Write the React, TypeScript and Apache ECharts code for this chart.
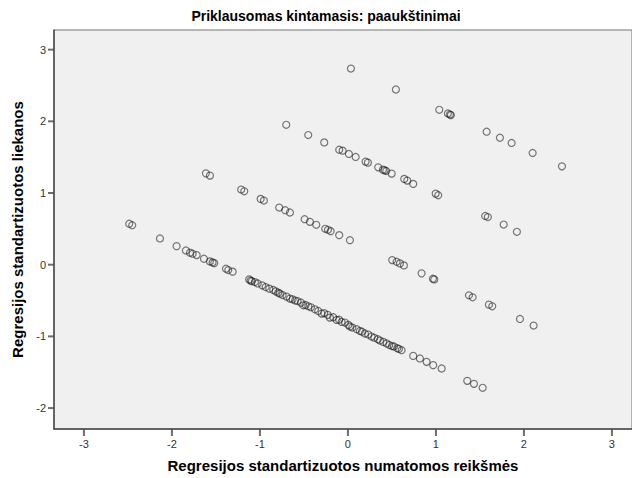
import React, { useEffect, useRef } from "react";
import * as echarts from "echarts";

const titleText = "Priklausomas kintamasis: paaukštinimai";
const xAxisTitle = "Regresijos standartizuotos numatomos reikšmės";
const yAxisTitle = "Regresijos standartizuotos liekanos";

const xTicks = [-3, -2, -1, 0, 1, 2, 3];
const yTicks = [-2, -1, 0, 1, 2, 3];

const X_MIN = -3.34;
const X_MAX = 3.228;
const Y_MIN = -2.292;
const Y_MAX = 3.274;

// Standardized predicted values (x)
const predicted = [
  // lowest band
  -2.485, -2.451, -2.136, -1.947, -1.841, -1.795, -1.765, -1.719, -1.636, -1.568,
  -1.538, -1.519, -1.386, -1.36, -1.31, -1.122, -1.105, -1.091, -1.057, -1.025,
  -0.974, -0.935, -0.894, -0.849, -0.82, -0.792, -0.773, -0.742, -0.697, -0.659,
  -0.628, -0.6, -0.572, -0.534, -0.508, -0.481, -0.45, -0.42, -0.375, -0.338,
  -0.299, -0.27, -0.23, -0.205, -0.167, -0.128, -0.1, -0.072, -0.034, 0.005,
  0.023, 0.05, 0.1, 0.136, 0.16, 0.193, 0.231, 0.269, 0.3, 0.34,
  0.364, 0.401, 0.44, 0.47, 0.5, 0.523, 0.56, 0.58, 0.61, 0.742,
  0.818, 0.894, 0.969, 1.065, 1.356, 1.432, 1.531,
  // second band
  -1.614, -1.568, -1.213, -1.178, -0.992, -0.955, -0.781, -0.713, -0.659, -0.492,
  -0.432, -0.36, -0.258, -0.227, -0.197, -0.099, 0.023, 0.503, 0.553, 0.591,
  0.636, 0.837, 0.966, 0.981, 1.375, 1.417, 1.602, 1.64, 1.955, 2.11,
  // third band
  -0.701, -0.451, -0.269, -0.099, -0.06, 0.011, 0.088, 0.201, 0.227, 0.344,
  0.398, 0.417, 0.435, 0.497, 0.64, 0.674, 0.742, 0.997, 1.026, 1.56,
  1.59, 1.77, 1.92,
  // top band
  0.034, 0.545, 1.038, 1.136, 1.159, 1.17, 1.576, 1.727, 1.86, 2.099, 2.432,
];

// Standardized residuals (y)
const residuals = [
  // lowest band
  0.571, 0.551, 0.366, 0.259, 0.199, 0.167, 0.153, 0.134, 0.083, 0.046,
  0.032, 0.022, -0.056, -0.075, -0.097, -0.205, -0.222, -0.23, -0.242, -0.262,
  -0.288, -0.312, -0.334, -0.353, -0.372, -0.39, -0.404, -0.423, -0.445, -0.473,
  -0.483, -0.5, -0.507, -0.529, -0.566, -0.562, -0.58, -0.594, -0.622, -0.646,
  -0.682, -0.675, -0.7, -0.738, -0.733, -0.771, -0.768, -0.799, -0.807, -0.84,
  -0.863, -0.877, -0.9, -0.924, -0.935, -0.96, -0.974, -1.002, -1.02, -1.04,
  -1.058, -1.077, -1.099, -1.12, -1.135, -1.141, -1.165, -1.175, -1.193, -1.272,
  -1.308, -1.355, -1.401, -1.448, -1.62, -1.662, -1.717,
  // second band
  1.274, 1.243, 1.048, 1.024, 0.918, 0.895, 0.797, 0.76, 0.728, 0.635,
  0.598, 0.557, 0.501, 0.487, 0.468, 0.412, 0.342, 0.064, 0.042, 0.018,
  -0.01, -0.121, -0.195, -0.205, -0.427, -0.455, -0.557, -0.58, -0.757, -0.849,
  // third band
  1.952, 1.809, 1.706, 1.604, 1.591, 1.545, 1.503, 1.438, 1.424, 1.358,
  1.326, 1.316, 1.308, 1.271, 1.197, 1.173, 1.127, 0.992, 0.969, 0.68,
  0.665, 0.56, 0.459,
  // top band
  2.736, 2.444, 2.161, 2.11, 2.096, 2.087, 1.855, 1.771, 1.698, 1.559, 1.372,
];

const FONT = 'Arial, "Liberation Sans", sans-serif';
const AXIS_COLOR = "#4a4a4a";

export default function App() {
  const ref = useRef<HTMLDivElement>(null);
  useEffect(() => {
    if (!ref.current) return;
    const chart = echarts.init(ref.current, null, { renderer: "svg" });
    const data = predicted.map((x, i) => [x, residuals[i]]);
    chart.setOption({
      animation: false,
      backgroundColor: "#ffffff",
      title: {
        text: titleText,
        left: 321,
        top: 4,
        textAlign: "center",
        textStyle: { fontFamily: FONT, fontSize: 14, fontWeight: "bold", color: "#000" },
      },
      grid: {
        left: 54,
        top: 30,
        right: 0,
        bottom: 48,
        show: true,
        backgroundColor: "#f0f0f0",
        borderColor: "#777",
        borderWidth: 1,
      },
      xAxis: {
        type: "value",
        min: X_MIN,
        max: X_MAX,
        name: xAxisTitle,
        nameLocation: "middle",
        nameGap: 29,
        nameTextStyle: { fontFamily: FONT, fontSize: 15, fontWeight: "bold", color: "#000" },
        axisLine: { show: true, onZero: false, lineStyle: { color: AXIS_COLOR, width: 1.5 } },
        axisTick: { show: false },
        axisLabel: {
          customValues: xTicks,
          fontFamily: FONT,
          fontSize: 11,
          color: "#333",
          margin: 9,
        },
        splitLine: { show: false },
      },
      yAxis: {
        type: "value",
        min: Y_MIN,
        max: Y_MAX,
        name: yAxisTitle,
        nameLocation: "middle",
        nameGap: 27,
        nameRotate: 90,
        nameTextStyle: { fontFamily: FONT, fontSize: 15, fontWeight: "bold", color: "#000" },
        axisLine: { show: true, onZero: false, lineStyle: { color: AXIS_COLOR, width: 1.5 } },
        axisTick: { show: false },
        axisLabel: {
          customValues: yTicks,
          fontFamily: FONT,
          fontSize: 11,
          color: "#333",
          margin: 8,
        },
        splitLine: { show: false },
      },
      series: [
        {
          type: "scatter",
          data,
          symbol: "circle",
          symbolSize: 7,
          itemStyle: {
            color: "rgba(0,0,0,0)",
            borderColor: "rgba(20,20,20,0.7)",
            borderWidth: 1.2,
          },
          emphasis: { disabled: true },
          z: 3,
        },
        {
          // x-axis tick marks
          type: "scatter",
          clip: false,
          silent: true,
          data: xTicks.map((v) => [v, Y_MIN]),
          symbol: "rect",
          symbolSize: [2, 7],
          symbolOffset: [0, 3.5],
          itemStyle: { color: AXIS_COLOR, borderWidth: 0 },
          emphasis: { disabled: true },
          z: 4,
        },
        {
          // y-axis tick marks
          type: "scatter",
          clip: false,
          silent: true,
          data: yTicks.map((v) => [X_MIN, v]),
          symbol: "rect",
          symbolSize: [6, 2],
          symbolOffset: [-3, 0],
          itemStyle: { color: AXIS_COLOR, borderWidth: 0 },
          emphasis: { disabled: true },
          z: 4,
        },
      ],
    });
    return () => chart.dispose();
  }, []);
  return (
    <div
      ref={ref}
      style={{ position: "absolute", left: 0, top: 0, width: 632, height: 478 }}
    />
  );
}
